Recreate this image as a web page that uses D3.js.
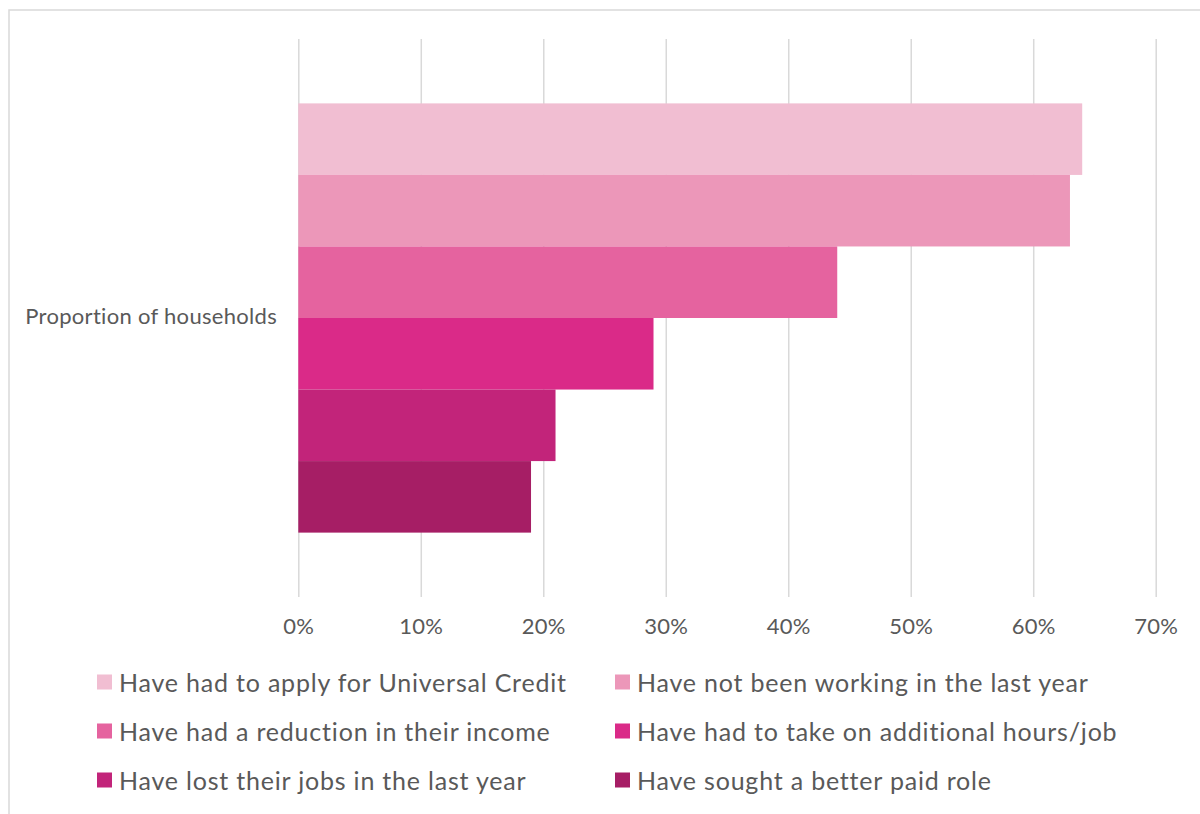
<!DOCTYPE html>
<html>
<head>
<meta charset="utf-8">
<script src="https://cdn.jsdelivr.net/npm/d3@7"></script>
<style>
  html, body { margin: 0; padding: 0; background: #ffffff; }
  svg { display: block; }
  text { font-family: "Lato", "Open Sans", sans-serif; fill: #595959; }
</style>
</head>
<body>
<div id="chart"></div>
<script>
// Single category, six series of household proportions
const categories = ["Proportion of households"];
const seriesNames = [
  "Have had to apply for Universal Credit",
  "Have not been working in the last year",
  "Have had a reduction in their income",
  "Have had to take on additional hours/job",
  "Have lost their jobs in the last year",
  "Have sought a better paid role"
];
const seriesValues = [0.64, 0.63, 0.44, 0.29, 0.21, 0.19];
const seriesColors = ["#F1BED2", "#EC97B9", "#E5639F", "#DA2A88", "#C2247A", "#A61E65"];
const tickValues = [0, 0.1, 0.2, 0.3, 0.4, 0.5, 0.6, 0.7];

const width = 1200, height = 814;
const plot = { left: 298.3, right: 1155.7, top: 39, bottom: 597 };

const svg = d3.select("#chart").append("svg")
  .attr("width", width).attr("height", height);

// Outer chart frame
svg.append("rect")
  .attr("x", 9).attr("y", 10)
  .attr("width", width + 20).attr("height", height + 20)
  .attr("fill", "#ffffff").attr("stroke", "#D9D9D9").attr("stroke-width", 1.5);

const x = d3.scaleLinear().domain([0, 0.7]).range([plot.left, plot.right]);
const yCat = d3.scaleBand().domain(categories).range([plot.top, plot.bottom]).paddingInner(0).paddingOuter(0.15);
const ySeries = d3.scaleBand().domain(seriesNames).range([0, yCat.bandwidth()]);

// Vertical gridlines and tick labels
const xAxis = d3.axisBottom(x)
  .tickValues(tickValues)
  .tickFormat(d3.format(".0%"))
  .tickSize(-(plot.bottom - plot.top))
  .tickPadding(21);

const gx = svg.append("g")
  .attr("transform", `translate(0,${plot.bottom})`)
  .call(xAxis);
gx.select(".domain").remove();
gx.selectAll(".tick line").attr("stroke", "#D9D9D9").attr("stroke-width", 1.5);
gx.selectAll(".tick text")
  .style("font-size", "22px")
  .style("letter-spacing", "0.3px")
  .attr("fill", "#595959")
  .attr("font-family", "Lato, 'Open Sans', sans-serif");

// Bars
const data = seriesNames.map((name, i) => ({ name, value: seriesValues[i], color: seriesColors[i] }));
const gBars = svg.append("g").attr("transform", `translate(0,${yCat(categories[0])})`);
gBars.selectAll("rect")
  .data(data)
  .join("rect")
  .attr("x", x(0))
  .attr("y", d => ySeries(d.name))
  .attr("width", d => x(d.value) - x(0))
  .attr("height", ySeries.bandwidth())
  .attr("fill", d => d.color);

// Category label
svg.append("text")
  .attr("x", 277)
  .attr("y", yCat(categories[0]) + yCat.bandwidth() / 2 - 3)
  .attr("text-anchor", "end")
  .attr("dominant-baseline", "central")
  .style("font-size", "22px")
  .style("letter-spacing", "0.3px")
  .text(categories[0]);

// Legend: two columns, three rows
const legendCols = [97, 615];
const legendRows = [682, 731, 780];
const legend = svg.append("g");
data.forEach((d, i) => {
  const cx = legendCols[i % 2];
  const cy = legendRows[Math.floor(i / 2)];
  legend.append("rect")
    .attr("x", cx).attr("y", cy - 7.5)
    .attr("width", 15).attr("height", 15)
    .attr("fill", d.color);
  legend.append("text")
    .attr("x", cx + 22).attr("y", cy)
    .attr("dominant-baseline", "central")
    .style("font-size", "25px")
    .style("letter-spacing", "0.8px")
    .text(d.name);
});
</script>
</body>
</html>
